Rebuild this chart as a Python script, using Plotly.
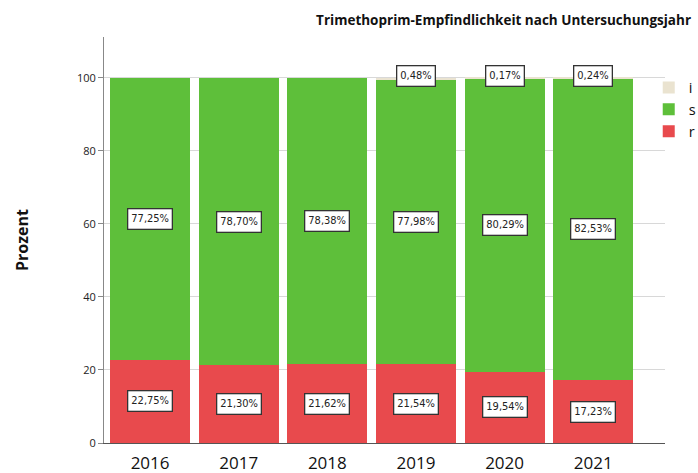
import plotly.graph_objects as go

years = ["2016", "2017", "2018", "2019", "2020", "2021"]
r_vals = [22.75, 21.30, 21.62, 21.54, 19.54, 17.23]
s_vals = [77.25, 78.70, 78.38, 77.98, 80.29, 82.53]
i_vals = [0, 0, 0, 0.48, 0.17, 0.24]

colors = {"r": "#E84A4D", "s": "#5EBF3A", "i": "#EAE3D0"}

def fmt(v):
    return f"{v:.2f}".replace(".", ",") + "%"

fig = go.Figure()
fig.add_trace(go.Bar(name="r", x=years, y=r_vals, marker=dict(color=colors["r"], line=dict(width=0))))
fig.add_trace(go.Bar(name="s", x=years, y=s_vals, marker=dict(color=colors["s"], line=dict(width=0))))
fig.add_trace(go.Bar(name="i", x=years, y=i_vals, marker=dict(color=colors["i"], line=dict(width=0))))

ann_font = dict(family="Liberation Sans Narrow, DejaVu Sans Condensed, sans-serif", size=11, color="#222")
for k, yr in enumerate(years):
    r, s, i = r_vals[k], s_vals[k], i_vals[k]
    items = [(r / 2, r), (r + s / 2, s)]
    if i > 0:
        items.append((r + s + i + 0.5, i))
    for ypos, v in items:
        fig.add_annotation(x=k, y=ypos, xref="x", yref="y", text=fmt(v), showarrow=False,
                           font=ann_font, bgcolor="white", bordercolor="#333",
                           borderwidth=1.3, borderpad=3, yanchor="middle")

fig.update_layout(
    width=698, height=473,
    barmode="stack", bargap=0.096,
    plot_bgcolor="white", paper_bgcolor="white",
    margin=dict(l=104, r=33, t=37, b=30, autoexpand=False),
    title=dict(text="<b>Trimethoprim-Empfindlichkeit nach Untersuchungsjahr</b>",
               x=0.99, xanchor="right", y=0.957, yanchor="middle",
               font=dict(family="Open Sans, sans-serif", size=13.5, color="#111")),
    legend=dict(traceorder="reversed", x=0.971, xanchor="left", y=0.915, yanchor="top",
                font=dict(family="Open Sans, sans-serif", size=14.5, color="#111"),
                itemwidth=30, tracegroupgap=0, bgcolor="rgba(0,0,0,0)"),
    font=dict(family="Open Sans, sans-serif"),
)
fig.update_xaxes(type="category", range=[-0.52, 5.81], showline=True, linecolor="#555", linewidth=1,
                 ticks="", ticklabelstandoff=5, tickfont=dict(size=17, color="#111"), showgrid=False)
fig.update_yaxes(range=[0, 111.2], tickvals=[0, 20, 40, 60, 80, 100],
                 showline=True, linecolor="#888", linewidth=1,
                 ticks="outside", ticklen=5, tickcolor="#888",
                 tickfont=dict(size=11, color="#222"),
                 showgrid=True, gridcolor="#d8d8d8", gridwidth=1, zeroline=False,
                 title=dict(text="<b>Prozent</b>", font=dict(size=16, color="#111"), standoff=44))

fig.write_html("out.html", config={"displayModeBar": False},
               post_script="document.body.style.margin='0';document.body.style.overflow='hidden';")
